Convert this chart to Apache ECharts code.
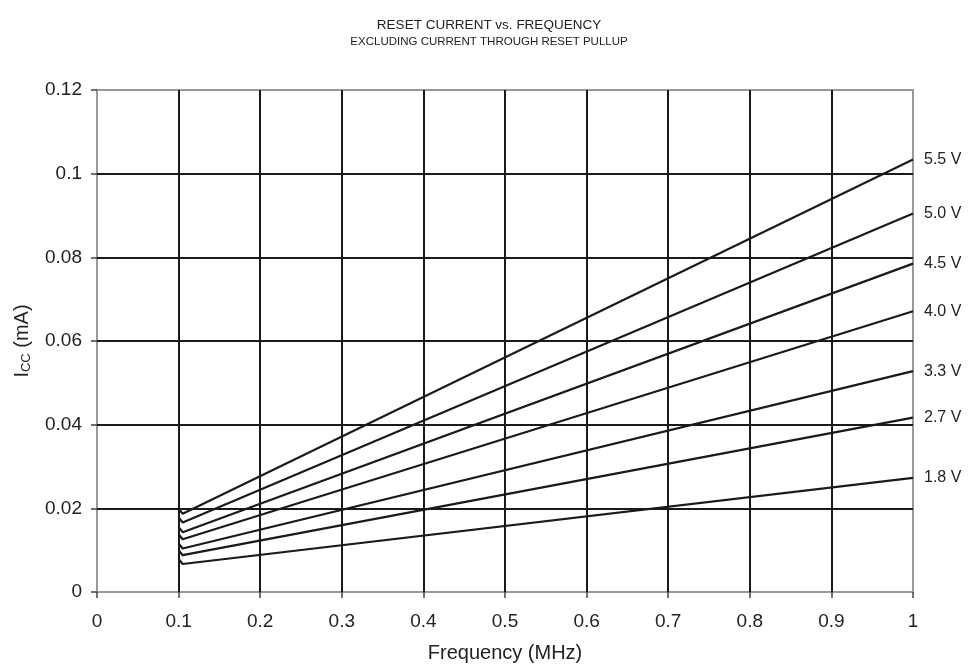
<!DOCTYPE html>
<html>
<head>
<meta charset="utf-8">
<script src="https://cdn.jsdelivr.net/npm/echarts@6/dist/echarts.min.js"></script>
<style>
html,body{margin:0;padding:0;background:#fff;}
#chart{width:968px;height:668px;}
</style>
</head>
<body>
<div id="chart"></div>
<script>
// Frequency points (MHz)
var freq = [0.1, 0.105, 1];
// Supply voltage labels
var voltages = ['5.5 V', '5.0 V', '4.5 V', '4.0 V', '3.3 V', '2.7 V', '1.8 V'];
// ICC (mA) per voltage
var icc55 = [0.0199, 0.0187, 0.1034];
var icc50 = [0.0178, 0.0166, 0.0905];
var icc45 = [0.0155, 0.0143, 0.0785];
var icc40 = [0.0138, 0.0126, 0.0671];
var icc33 = [0.0116, 0.0104, 0.0528];
var icc27 = [0.0100, 0.0088, 0.0417];
var icc18 = [0.0079, 0.0067, 0.0273];
var allIcc = [icc55, icc50, icc45, icc40, icc33, icc27, icc18];

var FONT = '"Liberation Sans", Arial, sans-serif';

var series = voltages.map(function (v, i) {
  return {
    name: v,
    type: 'line',
    symbol: 'none',
    smooth: false,
    lineStyle: { color: '#1a1a1a', width: 2.2 },
    data: freq.map(function (f, j) { return [f, allIcc[i][j]]; }),
    endLabel: {
      show: true,
      formatter: '{a}',
      distance: 11,
      color: '#222',
      fontFamily: FONT,
      fontSize: 16
    },
    emphasis: { disabled: true },
    animation: false
  };
});

var chart = echarts.init(document.getElementById('chart'));
chart.setOption({
  animation: false,
  title: [{
    text: 'RESET CURRENT vs. FREQUENCY',
    left: 484, top: 13, textAlign: 'center',
    textStyle: { fontFamily: FONT, fontSize: 13.5, fontWeight: 'normal', color: '#222' }
  }, {
    text: 'EXCLUDING CURRENT THROUGH RESET PULLUP',
    left: 484, top: 31, textAlign: 'center',
    textStyle: { fontFamily: FONT, fontSize: 11.5, fontWeight: 'normal', color: '#222' }
  }],
  grid: {
    left: 97, right: 55, top: 90, bottom: 75,
    show: true, borderColor: '#999', borderWidth: 2, backgroundColor: 'transparent'
  },
  xAxis: {
    type: 'value', min: 0, max: 1, interval: 0.1,
    name: 'Frequency (MHz)', nameLocation: 'middle', nameGap: 51,
    nameMoveOverlap: false,
    nameTextStyle: { fontFamily: FONT, fontSize: 20, color: '#222' },
    axisLine: { show: false },
    axisTick: { show: true, length: 6, lineStyle: { color: '#444', width: 1.5 } },
    axisLabel: { margin: 20, fontFamily: FONT, fontSize: 19, color: '#222' },
    splitLine: { show: true, showMinLine: false, showMaxLine: false, lineStyle: { color: '#1a1a1a', width: 2 } }
  },
  yAxis: {
    type: 'value', min: 0, max: 0.12, interval: 0.02,
    name: '{a|I}{b|CC}{a| (mA)}', nameLocation: 'middle', nameGap: 64,
    nameMoveOverlap: false,
    nameTextStyle: {
      fontFamily: FONT, fontSize: 20, color: '#222',
      rich: {
        a: { fontFamily: FONT, fontSize: 20, color: '#222' },
        b: { fontFamily: FONT, fontSize: 13, color: '#222', padding: [9, 0, 0, 0] }
      }
    },
    axisLine: { show: false },
    axisTick: { show: true, length: 6, lineStyle: { color: '#444', width: 1.5 } },
    axisLabel: { margin: 15, fontFamily: FONT, fontSize: 19, color: '#222' },
    splitLine: { show: true, showMinLine: false, showMaxLine: false, lineStyle: { color: '#1a1a1a', width: 2 } }
  },
  series: series
});
</script>
</body>
</html>
